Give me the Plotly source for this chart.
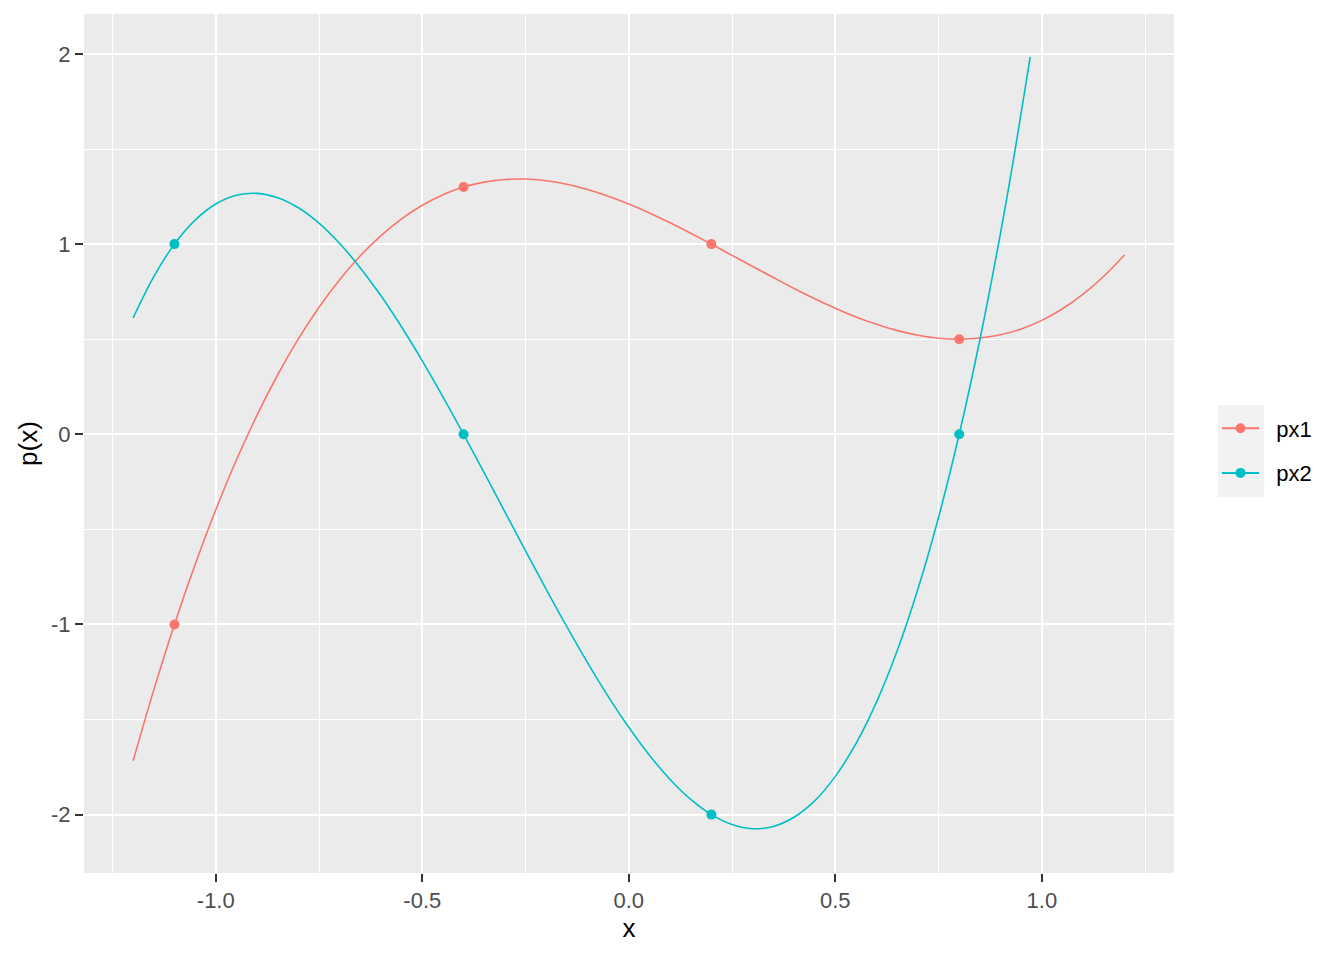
import plotly.graph_objects as go

# Interpolation nodes (points)
node_x = [-1.1, -0.4, 0.2, 0.8]
px1_nodes = [-1.0, 1.3, 1.0, 0.5]
px2_nodes = [1.0, 0.0, -2.0, 0.0]

# Curve values
px1_x = [-1.2, -1.15, -1.1, -1.05, -1.0, -0.95, -0.9, -0.85, -0.8, -0.75, -0.7, -0.65,
         -0.6, -0.55, -0.5, -0.45, -0.4, -0.35, -0.3, -0.25, -0.2, -0.15, -0.1, -0.05,
         0.0, 0.05, 0.1, 0.15, 0.2, 0.25, 0.3, 0.35, 0.4, 0.45, 0.5, 0.55,
         0.6, 0.65, 0.7, 0.75, 0.8, 0.85, 0.9, 0.95, 1.0, 1.05, 1.1, 1.15, 1.2]
px1_y = [-1.717, -1.344, -1.0, -0.685, -0.397, -0.135, 0.101, 0.313, 0.502, 0.668, 0.813, 0.939,
         1.045, 1.133, 1.204, 1.260, 1.3, 1.326, 1.340, 1.342, 1.333, 1.315, 1.287, 1.252,
         1.211, 1.164, 1.112, 1.057, 1.0, 0.941, 0.882, 0.824, 0.767, 0.713, 0.663, 0.617,
         0.578, 0.545, 0.521, 0.505, 0.5, 0.506, 0.523, 0.554, 0.599, 0.660, 0.737, 0.831, 0.943]

px2_x = [-1.2, -1.15, -1.1, -1.05, -1.0, -0.95, -0.9, -0.85, -0.8, -0.75, -0.7, -0.65,
         -0.6, -0.55, -0.5, -0.45, -0.4, -0.35, -0.3, -0.25, -0.2, -0.15, -0.1, -0.05,
         0.0, 0.05, 0.1, 0.15, 0.2, 0.25, 0.3, 0.35, 0.4, 0.45, 0.5, 0.55,
         0.6, 0.65, 0.7, 0.75, 0.8, 0.85, 0.9, 0.935, 0.972]
px2_y = [0.612, 0.829, 1.0, 1.126, 1.211, 1.257, 1.267, 1.244, 1.191, 1.110, 1.003, 0.875,
         0.728, 0.564, 0.386, 0.197, 0.0, -0.203, -0.408, -0.613, -0.815, -1.012, -1.201, -1.378,
         -1.541, -1.688, -1.815, -1.920, -2.0, -2.052, -2.074, -2.062, -2.014, -1.928, -1.799, -1.627,
         -1.407, -1.137, -0.814, -0.436, 0.0, 0.497, 1.058, 1.491, 1.984]

series_names = ["px1", "px2"]

x_ticks = [-1.0, -0.5, 0.0, 0.5, 1.0]
x_ticktext = ["-1.0", "-0.5", "0.0", "0.5", "1.0"]
x_minor = [-1.25, -0.75, -0.25, 0.25, 0.75, 1.25]
y_ticks = [-2, -1, 0, 1, 2]
y_ticktext = ["-2", "-1", "0", "1", "2"]
y_minor = [-1.5, -0.5, 0.5, 1.5]

C1 = "#F8766D"
C2 = "#00BFC4"
FONT = "Liberation Sans, Arial, sans-serif"
NB = "\u00a0\u00a0"

fig = go.Figure()
fig.add_trace(go.Scatter(x=px1_x, y=px1_y, mode="lines", line=dict(color=C1, width=1.6, shape="spline"),
                         showlegend=False, hoverinfo="skip", legendgroup="a"))
fig.add_trace(go.Scatter(x=px2_x, y=px2_y, mode="lines", line=dict(color=C2, width=1.6, shape="spline"),
                         showlegend=False, hoverinfo="skip", legendgroup="b"))
fig.add_trace(go.Scatter(x=node_x, y=px1_nodes, mode="markers", name=series_names[0],
                         marker=dict(color=C1, size=10), showlegend=False, legendgroup="a"))
fig.add_trace(go.Scatter(x=node_x, y=px2_nodes, mode="markers", name=series_names[1],
                         marker=dict(color=C2, size=10), showlegend=False, legendgroup="b"))
# legend entries (line + point keys)
fig.add_trace(go.Scatter(x=[None], y=[None], mode="lines+markers", name=NB + series_names[0],
                         line=dict(color=C1, width=2), marker=dict(color=C1, size=10),
                         legendgroup="a"))
fig.add_trace(go.Scatter(x=[None], y=[None], mode="lines+markers", name=NB + series_names[1],
                         line=dict(color=C2, width=2), marker=dict(color=C2, size=10),
                         legendgroup="b"))

# page has an 8px body margin: figure is drawn from (8, 8)
OFF = 8
W, H = 1344 - OFF, 960 - OFF
L, R, T, B = 84 - OFF, 170, 14 - OFF, 87
pw = W - L - R
ph = H - T - B

def px_to_paper_x(p):
    return (p - OFF - L) / pw

def px_to_paper_y(p):
    return (H - B - (p - OFF)) / ph

fig.add_shape(type="rect", xref="paper", yref="paper",
              x0=px_to_paper_x(1218), x1=px_to_paper_x(1264),
              y0=px_to_paper_y(497), y1=px_to_paper_y(405),
              fillcolor="#F2F2F2", line=dict(width=0), layer="below")

axis_common = dict(
    showgrid=True, gridcolor="white", gridwidth=2, zeroline=False,
    ticks="outside", ticklen=8, tickwidth=2, tickcolor="#333333",
    tickfont=dict(family=FONT, size=22, color="#4D4D4D"),
    showline=False, automargin=False,
)

fig.update_layout(
    width=W, height=H,
    margin=dict(l=L, r=R, t=T, b=B, autoexpand=False),
    paper_bgcolor="white", plot_bgcolor="#EBEBEB",
    font=dict(family=FONT, color="black"),
    xaxis=dict(range=[-1.319, 1.320], tickvals=x_ticks, ticktext=x_ticktext,
               minor=dict(tickvals=x_minor, showgrid=True, gridcolor="white", gridwidth=1, ticks=""),
               title=dict(text="x", font=dict(family=FONT, size=26, color="black"), standoff=6),
               **axis_common),
    yaxis=dict(range=[-2.307, 2.21], tickvals=y_ticks, ticktext=y_ticktext,
               minor=dict(tickvals=y_minor, showgrid=True, gridcolor="white", gridwidth=1, ticks=""),
               title=dict(text="p(x)", font=dict(family=FONT, size=26, color="black"), standoff=5),
               **axis_common),
    legend=dict(x=px_to_paper_x(1217), xanchor="left", y=px_to_paper_y(451), yanchor="middle",
                bgcolor="rgba(0,0,0,0)", font=dict(family=FONT, size=22, color="black"),
                tracegroupgap=13, traceorder="grouped", itemwidth=37),
    showlegend=True,
)

fig.write_html("out.html")
